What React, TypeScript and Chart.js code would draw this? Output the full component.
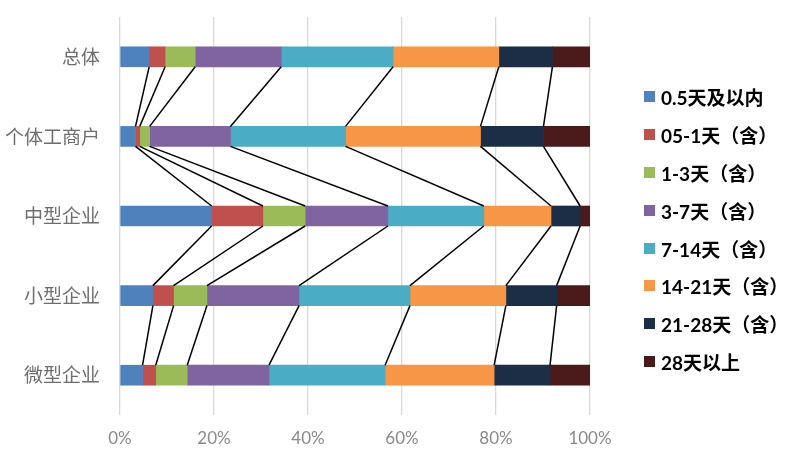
import React, { useEffect, useRef } from "react";
import { Chart, registerables } from "chart.js";

Chart.register(...registerables);

const categories = ["总体", "个体工商户", "中型企业", "小型企业", "微型企业"];

const seriesNames = [
  "0.5天及以内",
  "05-1天（含）",
  "1-3天（含）",
  "3-7天（含）",
  "7-14天（含）",
  "14-21天（含）",
  "21-28天（含）",
  "28天以上",
];

const seriesColors = [
  "#4F81BD",
  "#C0504D",
  "#9BBB59",
  "#8064A2",
  "#4BACC6",
  "#F79646",
  "#1B2E46",
  "#4B1A1A",
];

const s0 = [6.2, 3.3, 19.5, 7.0, 4.8];
const s1 = [3.4, 0.9, 10.9, 4.4, 2.8];
const s2 = [6.4, 2.1, 9.0, 7.1, 6.7];
const s3 = [18.3, 17.2, 17.6, 19.6, 17.4];
const s4 = [23.8, 24.5, 20.4, 23.6, 24.7];
const s5 = [22.5, 28.7, 14.3, 20.4, 23.2];
const s6 = [11.4, 13.4, 6.2, 10.8, 11.9];
const s7 = [8.0, 9.9, 2.1, 7.1, 8.5];

const seriesValues = [s0, s1, s2, s3, s4, s5, s6, s7];

const xTicks = [0, 20, 40, 60, 80, 100];

const seriesLinesPlugin = {
  id: "seriesLines",
  afterDatasetsDraw(chart: any) {
    const ctx = chart.ctx;
    const n = chart.data.datasets.length;
    ctx.save();
    ctx.strokeStyle = "#000000";
    ctx.lineWidth = 1.5;
    for (let i = 0; i < n - 1; i++) {
      const meta = chart.getDatasetMeta(i);
      for (let j = 0; j < meta.data.length - 1; j++) {
        const a = meta.data[j].getProps(["x", "y", "height"], true);
        const b = meta.data[j + 1].getProps(["x", "y", "height"], true);
        ctx.beginPath();
        ctx.moveTo(a.x, a.y + a.height / 2);
        ctx.lineTo(b.x, b.y - b.height / 2);
        ctx.stroke();
      }
    }
    ctx.restore();
  },
};

export default function App() {
  const canvasRef = useRef<HTMLCanvasElement | null>(null);

  useEffect(() => {
    if (!canvasRef.current) return;
    const chart = new Chart(canvasRef.current, {
      type: "bar",
      data: {
        labels: categories,
        datasets: seriesNames.map((name, i) => ({
          label: name,
          data: seriesValues[i],
          backgroundColor: seriesColors[i],
          borderWidth: 0,
          barThickness: 20,
        })),
      },
      options: {
        indexAxis: "y",
        animation: false,
        responsive: true,
        maintainAspectRatio: false,
        layout: { padding: { top: 17, right: 212, bottom: 0, left: 0 } },
        plugins: {
          legend: { display: false },
          tooltip: { enabled: false },
        },
        scales: {
          x: {
            stacked: true,
            min: 0,
            max: 100,
            afterBuildTicks: (scale: any) => {
              scale.ticks = xTicks.map((v) => ({ value: v }));
            },
            afterFit: (scale: any) => {
              scale.height = 44;
            },
            ticks: {
              callback: (v: any) => v + "%",
              color: "#8a8a8a",
              padding: 13,
              font: { family: "Lato, 'Noto Sans CJK SC'", size: 17 },
            },
            grid: {
              color: "#d9d9d9",
              lineWidth: 1.3,
              drawTicks: false,
            },
            border: { display: false },
          },
          y: {
            stacked: true,
            afterFit: (scale: any) => {
              scale.width = 120;
              scale.paddingTop = 0;
              scale.paddingBottom = 0;
            },
            ticks: {
              color: "#6e6e6e",
              padding: 20,
              font: { family: "'Noto Sans CJK SC'", size: 19 },
            },
            grid: { display: false, drawTicks: false },
            border: { display: false },
          },
        },
      },
      plugins: [seriesLinesPlugin],
    });
    return () => chart.destroy();
  }, []);

  return (
    <div
      style={{
        position: "fixed",
        left: 0,
        top: 0,
        width: 802,
        height: 459,
        background: "#ffffff",
      }}
    >
      <canvas ref={canvasRef} />
      <div
        style={{
          position: "absolute",
          left: 644,
          top: 78,
          display: "flex",
          flexDirection: "column",
        }}
      >
        {seriesNames.map((name, i) => (
          <div
            key={name}
            style={{
              height: 37.8,
              display: "flex",
              alignItems: "center",
              fontFamily: "Lato, 'Noto Sans CJK SC'",
              fontWeight: 700,
              fontSize: 19,
              color: "#000000",
              whiteSpace: "nowrap",
            }}
          >
            <span
              style={{
                display: "inline-block",
                width: 11,
                height: 11,
                background: seriesColors[i],
                marginRight: 6,
              }}
            />
            <span>{name}</span>
          </div>
        ))}
      </div>
    </div>
  );
}
